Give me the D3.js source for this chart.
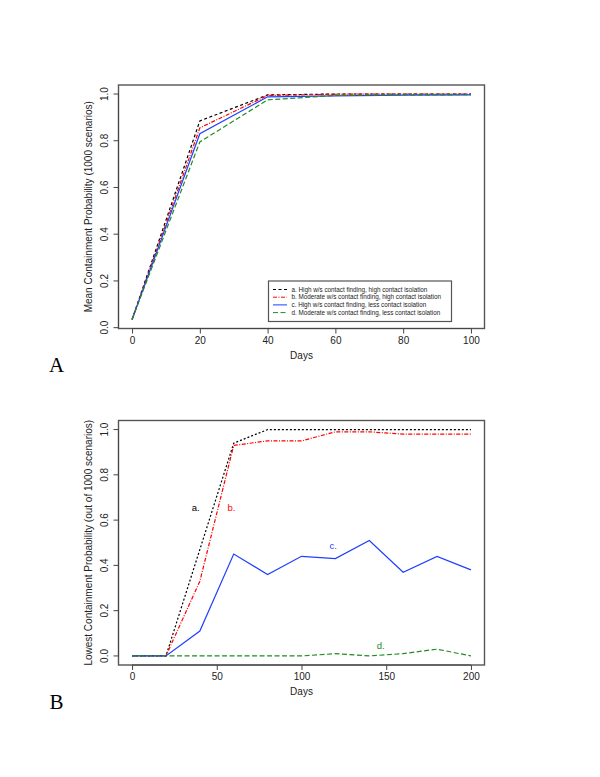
<!DOCTYPE html>
<html>
<head>
<meta charset="utf-8">
<script src="https://cdnjs.cloudflare.com/ajax/libs/d3/7.8.5/d3.min.js"></script>
<style>
  html, body { margin: 0; padding: 0; background: #fff; }
  svg { display: block; }
  text { font-family: "Liberation Sans", Arial, sans-serif; fill: #222; }
  text.panel { font-family: "Liberation Serif", "Times New Roman", serif; fill: #000; }
</style>
</head>
<body>
<svg id="chart" width="600" height="777"></svg>
<script>
// ---------- data ----------
const seriesNames = ["a", "b", "c", "d"];
const legendLabels = [
  "a. High w/s contact finding, high contact isolation",
  "b. Moderate w/s contact finding, high contact isolation",
  "c. High w/s contact finding, less contact isolation",
  "d. Moderate w/s contact finding, less contact isolation"
];
const daysA = [0, 20, 40, 60, 80, 100];
const meanA = [0.035, 0.885, 0.996, 1.0, 1.0, 1.0];
const meanB = [0.035, 0.855, 0.994, 0.999, 1.0, 1.0];
const meanC = [0.035, 0.830, 0.988, 0.992, 0.995, 0.996];
const meanD = [0.035, 0.795, 0.975, 0.994, 0.996, 0.997];

const daysB = [0, 20, 40, 60, 80, 100, 120, 140, 160, 180, 200];
const lowA = [0, 0, 0.47, 0.94, 1.0, 1.0, 1.0, 1.0, 1.0, 1.0, 1.0];
const lowB = [0, 0, 0.33, 0.93, 0.95, 0.95, 0.99, 0.99, 0.98, 0.98, 0.98];
const lowC = [0, 0, 0.11, 0.45, 0.36, 0.44, 0.43, 0.51, 0.37, 0.44, 0.38];
const lowD = [0, 0, 0, 0, 0, 0, 0.01, 0, 0.01, 0.03, 0];

const xTicksA = [0, 20, 40, 60, 80, 100];
const xTicksB = [0, 50, 100, 150, 200];
const yTicks = [0, 0.2, 0.4, 0.6, 0.8, 1.0];

// inline labels for panel B: [label, day, value]
const inlineLabels = [["a.", 37.6, 0.655], ["b.", 58.7, 0.655], ["c.", 118.7, 0.485], ["d.", 146.7, 0.044]];
const panelLetters = ["A", "B"];

// ---------- styles ----------
const colors = { a: "#000000", b: "#ff0000", c: "#1f3fff", d: "#228b22" };
const dashesA = { a: "3,2.5", b: "4,1.5,1,1.5", c: null, d: "5,2.5" };
const dashesB = { a: "2,2", b: "4,1.5,1,1.5", c: null, d: "5,2.5" };

const svg = d3.select("#chart");

function drawPanel(cfg) {
  const g = svg.append("g");
  const x = d3.scaleLinear().domain(cfg.xDomain).range([cfg.left, cfg.right]);
  const y = d3.scaleLinear().domain(cfg.yDomain).range([cfg.bottom, cfg.top]);

  // box
  g.append("rect")
    .attr("x", cfg.left).attr("y", cfg.top)
    .attr("width", cfg.right - cfg.left).attr("height", cfg.bottom - cfg.top)
    .attr("fill", "none").attr("stroke", "#555").attr("stroke-width", 1.4);

  // x axis
  const xa = g.append("g").attr("transform", `translate(0,${cfg.bottom})`)
    .call(d3.axisBottom(x).tickValues(cfg.xTicks).tickSize(5).tickPadding(3).tickFormat(d3.format("d")));
  xa.select(".domain").attr("d", `M${x(cfg.xTicks[0])},0H${x(cfg.xTicks[cfg.xTicks.length-1])}`).attr("stroke", "#444");
  xa.selectAll("line").attr("stroke", "#444");
  xa.selectAll("text").attr("font-size", 10).attr("fill", "#222");

  // y axis
  const ya = g.append("g").attr("transform", `translate(${cfg.left},0)`)
    .call(d3.axisLeft(y).tickValues(yTicks).tickSize(5).tickPadding(3).tickFormat(d3.format(".1f")));
  ya.select(".domain").attr("d", `M0,${y(yTicks[0])}V${y(yTicks[yTicks.length-1])}`).attr("stroke", "#444");
  ya.selectAll("line").attr("stroke", "#444");
  ya.selectAll("text")
    .attr("font-size", 10).attr("fill", "#222")
    .attr("text-anchor", "middle").attr("dy", null).attr("x", null)
    .attr("transform", d => `translate(${-11},${y(d)}) rotate(-90)`)
    .attr("y", 0);
  ya.selectAll(".tick").attr("transform", null);
  ya.selectAll(".tick line").attr("transform", d => `translate(0,${y(d)})`);

  // axis titles
  g.append("text").attr("x", (x(cfg.xDomain[0]) + x(cfg.xDomain[1])) / 2)
    .attr("y", cfg.bottom + 30).attr("text-anchor", "middle")
    .attr("font-size", 10).text("Days");
  g.append("text")
    .attr("transform", `translate(${cfg.left - 27},${(cfg.top + cfg.bottom) / 2}) rotate(-90)`)
    .attr("text-anchor", "middle").attr("font-size", 10).text(cfg.yTitle);

  // lines
  const line = d3.line().x(d => x(d[0])).y(d => y(d[1]));
  cfg.series.forEach((vals, i) => {
    const k = seriesNames[i];
    g.append("path")
      .datum(cfg.days.map((d, j) => [d, vals[j]]))
      .attr("d", line)
      .attr("fill", "none")
      .attr("stroke", colors[k])
      .attr("stroke-width", 1.2)
      .attr("stroke-dasharray", cfg.dashes[k]);
  });
  return { x, y, g };
}

// Panel A
const pA = drawPanel({
  left: 118.5, right: 484.5, top: 85, bottom: 328.5,
  xDomain: [-4, 104], yDomain: [0.035 - 0.965 * 0.04, 1.0 + 0.965 * 0.04],
  xTicks: xTicksA, days: daysA,
  series: [meanA, meanB, meanC, meanD], dashes: dashesA,
  yTitle: "Mean Containment Probability (1000 scenarios)"
});

// legend for panel A
const lg = pA.g.append("g");
lg.append("rect").attr("x", 268.5).attr("y", 281).attr("width", 183).attr("height", 40.5)
  .attr("fill", "#fff").attr("stroke", "#555").attr("stroke-width", 1.2);
legendLabels.forEach((t, i) => {
  const k = seriesNames[i];
  const yy = 289.5 + i * 7.7;
  lg.append("line").attr("x1", 273).attr("x2", 287).attr("y1", yy).attr("y2", yy)
    .attr("stroke", colors[k]).attr("stroke-width", 1).attr("stroke-dasharray", dashesA[k]);
  lg.append("text").attr("x", 291.5).attr("y", yy).attr("dy", "0.35em")
    .attr("font-size", 6.3).text(t);
});

// Panel B
const pB = drawPanel({
  left: 118.5, right: 484.5, top: 420.5, bottom: 665,
  xDomain: [-8, 208], yDomain: [-0.04, 1.04],
  xTicks: xTicksB, days: daysB,
  series: [lowA, lowB, lowC, lowD], dashes: dashesB,
  yTitle: "Lowest Containment Probability (out of 1000 scenarios)"
});
inlineLabels.forEach((l, i) => {
  pB.g.append("text").attr("x", pB.x(l[1])).attr("y", pB.y(l[2])).attr("dy", "0.35em")
    .attr("text-anchor", "middle").attr("font-size", 9.5)
    .style("fill", colors[seriesNames[i]]).text(l[0]);
});

// panel letters
const letterPos = [[49, 372], [49.5, 709]];
panelLetters.forEach((t, i) => {
  svg.append("text").attr("class", "panel")
    .attr("x", letterPos[i][0]).attr("y", letterPos[i][1])
    .attr("font-size", 21).text(t);
});
</script>
</body>
</html>
